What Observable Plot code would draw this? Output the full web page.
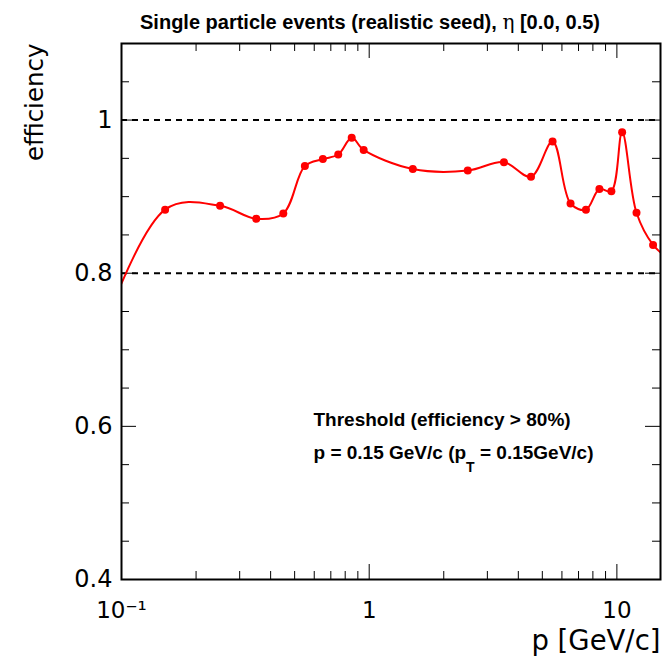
<!DOCTYPE html>
<html><head><meta charset="utf-8">
<script src="https://cdn.jsdelivr.net/npm/d3@7"></script>
<script src="https://cdn.jsdelivr.net/npm/@observablehq/plot@0.6"></script>
<style>body{margin:0;background:#fff}</style>
</head><body><div id="chart"></div>
<script>
// Measured points (bin centres in p, efficiency)
const p   = [0.15, 0.25, 0.35, 0.45, 0.55, 0.65, 0.75, 0.85, 0.95, 1.5, 2.5, 3.5, 4.5, 5.5, 6.5, 7.5, 8.5, 9.5, 10.5, 12, 14];
const eff = [0.883, 0.888, 0.871, 0.878, 0.940, 0.949, 0.955, 0.977, 0.961, 0.936, 0.934, 0.945, 0.926, 0.972, 0.891, 0.883, 0.910, 0.907, 0.984, 0.879, 0.837];
// Points lying outside the frame that the smooth curve continues to (clipped)
const pOutside   = [0.05, 16];
const effOutside = [0.51, 0.82];

const xMajor = [0.1, 1, 10];
const xMinor = [0.2, 0.3, 0.4, 0.5, 0.6, 0.7, 0.8, 0.9, 2, 3, 4, 5, 6, 7, 8, 9];
const yMajor = [0.4, 0.6, 0.8, 1.0];
const yMinor = [0.45, 0.5, 0.55, 0.65, 0.7, 0.75, 0.85, 0.9, 0.95, 1.05];
const refLines = [0.8, 1.0];

const title  = "Single particle events (realistic seed), η [0.0, 0.5)";
const xTitle = "p [GeV/c]";
const yTitle = "efficiency";
const note1  = "Threshold (efficiency > 80%)";
const note2  = "p = 0.15 GeV/c (p_T = 0.15GeV/c)";

const W = 663, H = 659, mL = 121, mR = 3, mT = 43, mB = 80;
const fW = W - mL - mR, fH = H - mT - mB;
const majorLen = 15, minorLen = 8;

const points = p.map((v, i) => ({p: v, eff: eff[i]}));
const curve = [{p: pOutside[0], eff: effOutside[0]}, ...points, {p: pOutside[1], eff: effOutside[1]}];

const reg = "DejaVu Sans";
const bold = "Liberation Sans";

const svg = Plot.plot({
  width: W, height: H,
  marginLeft: mL, marginRight: mR, marginTop: mT, marginBottom: mB,
  style: {fontFamily: reg, background: "white", color: "black"},
  x: {type: "log", domain: [0.1, 15]},
  y: {domain: [0.4, 1.1]},
  marks: [
    // inward ticks on all four sides
    Plot.ruleX(xMajor, {stroke: "black", strokeWidth: 1, insetTop: fH - majorLen}),
    Plot.ruleX(xMinor, {stroke: "black", strokeWidth: 1, insetTop: fH - minorLen}),
    Plot.ruleX(xMajor, {stroke: "black", strokeWidth: 1, insetBottom: fH - majorLen}),
    Plot.ruleX(xMinor, {stroke: "black", strokeWidth: 1, insetBottom: fH - minorLen}),
    Plot.ruleY(yMajor, {stroke: "black", strokeWidth: 1, insetRight: fW - majorLen}),
    Plot.ruleY(yMinor, {stroke: "black", strokeWidth: 1, insetRight: fW - minorLen}),
    Plot.ruleY(yMajor, {stroke: "black", strokeWidth: 1, insetLeft: fW - majorLen}),
    Plot.ruleY(yMinor, {stroke: "black", strokeWidth: 1, insetLeft: fW - minorLen}),
    // dashed reference lines
    Plot.ruleY(refLines, {stroke: "black", strokeWidth: 2, strokeDasharray: "6,5"}),
    // tick labels
    Plot.axisX({ticks: xMajor, tickSize: 0, tickPadding: 22, fontSize: 23, label: null,
      tickFormat: d => d === 0.1 ? "10⁻¹" : String(d)}),
    Plot.axisY({ticks: yMajor, tickSize: 0, tickPadding: 9, fontSize: 24, label: null,
      tickFormat: d => String(d)}),
    // curve and points
    Plot.line(curve, {x: "p", y: "eff", stroke: "#ff0000", strokeWidth: 2, curve: "catmull-rom", clip: true}),
    Plot.dot(points, {x: "p", y: "eff", r: 4, fill: "#ff0000", stroke: "none"}),
    Plot.frame({stroke: "black", strokeWidth: 2}),
    // titles and annotations
    Plot.text([title], {text: d => d, frameAnchor: "top", dx: -21, dy: -15, lineAnchor: "bottom",
      fontFamily: bold, fontWeight: "bold", fontSize: 20, fill: "black"}),
    Plot.text([xTitle], {text: d => d, frameAnchor: "bottom-right", textAnchor: "end", dy: 70, lineAnchor: "bottom",
      fontSize: 27.5, fill: "black"}),
    Plot.text([yTitle], {text: d => d, frameAnchor: "top-left", rotate: -90, textAnchor: "end", dx: -86, lineAnchor: "middle",
      fontSize: 24.5, fill: "black"}),
    Plot.text([note1], {text: d => d, frameAnchor: "top-left", textAnchor: "start", dx: 192, dy: 382, lineAnchor: "bottom",
      fontFamily: bold, fontWeight: "bold", fontSize: 19, fill: "black"}),
    Plot.text([note2], {text: d => d, frameAnchor: "top-left", textAnchor: "start", dx: 192, dy: 415, lineAnchor: "bottom",
      fontFamily: bold, fontWeight: "bold", fontSize: 19, fill: "black"})
  ]
});

// Rich text: subscript T and regular-weight eta
d3.select(svg).selectAll("text").each(function () {
  const t = this.textContent;
  if (t === note2) {
    const [a, b] = t.split("_T");
    const sel = d3.select(this).text(null);
    sel.append("tspan").text(a);
    sel.append("tspan").attr("dy", 13).attr("font-size", 14).text("T");
    sel.append("tspan").attr("dy", -13).text(b);
  } else if (t === title) {
    const [a, b] = t.split("η");
    const sel = d3.select(this).text(null);
    sel.append("tspan").text(a);
    sel.append("tspan").attr("font-weight", "normal").attr("font-family", "DejaVu Serif").text("η");
    sel.append("tspan").text(b);
  }
});

document.getElementById("chart").append(svg);
</script>
</body></html>
